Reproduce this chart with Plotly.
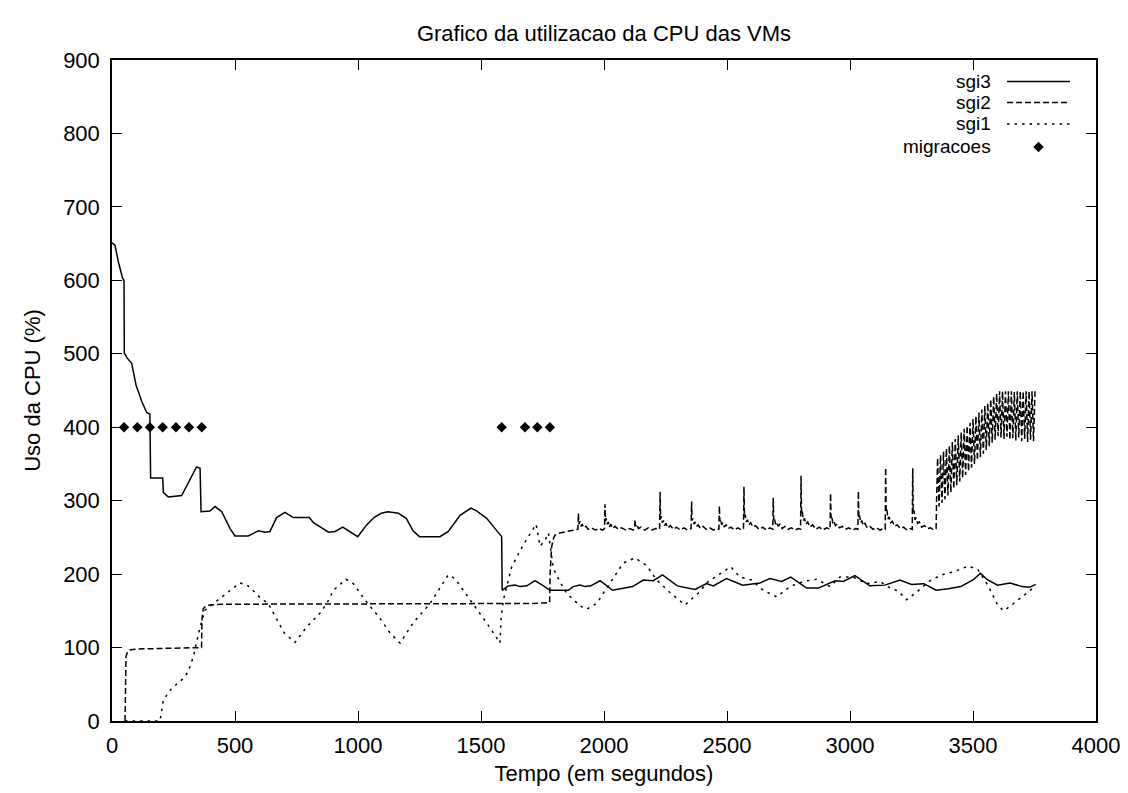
import plotly.graph_objects as go

# ---------------- data ----------------
sgi3_t = [0, 12, 26, 43, 49, 50, 62, 80, 98, 121, 141, 154, 157, 206, 209, 229, 283, 310, 344, 358,
          362, 398, 419, 446, 480, 500, 554, 595, 622, 642, 669, 703, 737, 802, 819, 880, 907, 938,
          967, 999, 1035, 1065, 1095, 1121, 1144, 1164, 1196, 1224, 1250, 1333, 1367, 1415, 1459,
          1482, 1523, 1584, 1586, 1611, 1638, 1659, 1686, 1720, 1754, 1780, 1855, 1875, 1902, 1923,
          1946, 1984, 2035, 2079, 2116, 2160, 2200, 2238, 2298, 2370, 2417, 2444, 2498, 2564, 2634,
          2675, 2722, 2759, 2824, 2871, 2939, 2973, 3020, 3081, 3142, 3203, 3250, 3300, 3350, 3400,
          3450, 3500, 3530, 3560, 3600, 3650, 3700, 3730, 3755]
sgi3_v = [651, 648, 625, 603, 600, 501, 494, 487, 457, 435, 420, 418, 331, 331, 311, 305, 307, 324, 346, 344,
          285, 286, 292, 285, 262, 252, 252, 259, 257, 258, 277, 284, 277, 277, 270, 257, 258, 264,
          258, 251, 267, 277, 283, 285, 284, 283, 276, 259, 251, 251, 258, 280, 290,
          286, 276, 251, 178, 184, 185, 183, 184, 191, 184, 178, 178, 183, 185, 183,
          184, 191, 178, 181, 183, 192, 191, 199, 184, 179, 187, 184, 194, 185, 188,
          194, 190, 196, 181, 181, 191, 190, 198, 184, 185, 192, 186, 187, 178, 180,
          183, 192, 201, 192, 185, 188, 183, 182, 186]

sgi2_t = [53, 54, 57, 62, 75, 100, 200, 300, 364, 366, 371, 380, 395, 450, 600, 1000, 1400, 1700, 1779,
          1781, 1787, 1795, 1801, 1820, 1848, 1875, 1894,
          1896, 1898, 1902, 1906, 1911, 1918, 1926, 1936, 1950, 1965, 1980, 1995, 2002,
          2004, 2006, 2009, 2013, 2017, 2022, 2028, 2035, 2045, 2058, 2072, 2088, 2104, 2118, 2124,
          2126, 2128, 2133, 2140, 2150, 2165, 2180, 2195, 2210, 2226,
          2228, 2230, 2233, 2237, 2241, 2246, 2252, 2260, 2270, 2282, 2295, 2310, 2325, 2340, 2354,
          2356, 2358, 2361, 2365, 2370, 2376, 2383, 2392, 2403, 2416, 2430, 2445, 2458, 2467,
          2469, 2471, 2474, 2478, 2483, 2489, 2496, 2505, 2516, 2530, 2545, 2558, 2567,
          2569, 2571, 2574, 2578, 2583, 2589, 2596, 2605, 2616, 2630, 2645, 2660, 2675, 2686,
          2688, 2690, 2693, 2697, 2702, 2708, 2715, 2724, 2735, 2748, 2762, 2776, 2790, 2799,
          2801, 2803, 2806, 2810, 2815, 2821, 2828, 2837, 2848, 2861, 2875, 2890, 2905, 2919,
          2921, 2923, 2926, 2930, 2935, 2941, 2948, 2957, 2968, 2981, 2995, 3010, 3024, 3032,
          3034, 3036, 3039, 3043, 3048, 3054, 3061, 3070, 3081, 3094, 3108, 3122, 3136, 3143,
          3145, 3147, 3150, 3154, 3159, 3165, 3172, 3181, 3192, 3205, 3218, 3232, 3245, 3253,
          3255, 3257, 3260, 3264, 3269, 3275, 3282, 3291, 3302, 3315, 3328, 3340, 3348, 3350, 3352,
          3356, 3362, 3368, 3374, 3380, 3386, 3392, 3398, 3404, 3410, 3416, 3422, 3428, 3434, 3440,
          3446, 3452, 3458, 3464, 3470, 3476, 3482, 3488, 3494, 3500, 3506, 3512, 3518, 3524, 3530,
          3536, 3542, 3548, 3554, 3560, 3566, 3572, 3578, 3584, 3590, 3596, 3602, 3608, 3614, 3620,
          3626, 3632, 3638, 3644, 3650, 3656, 3662, 3668, 3674, 3680, 3686, 3692, 3698, 3704, 3710,
          3716, 3722, 3728, 3734, 3740, 3746, 3752]
sgi2_v = [0, 60, 88, 93, 97, 98, 99, 99, 100, 140, 153, 156, 158, 159, 159, 159, 159, 160, 161,
          200, 237, 249, 253, 256, 258, 260, 261,
          283, 268, 272, 265, 268, 263, 265, 261, 263, 260, 262, 260, 262,
          295, 272, 276, 268, 271, 264, 268, 262, 265, 261, 263, 260, 262, 260, 262,
          274, 265, 268, 262, 264, 260, 263, 260, 262, 261,
          312, 275, 279, 270, 273, 266, 269, 263, 266, 261, 264, 260, 263, 260, 262,
          299, 273, 276, 268, 271, 265, 267, 262, 265, 261, 263, 260, 262, 261,
          293, 272, 275, 267, 270, 264, 267, 262, 264, 260, 263, 260, 262,
          319, 278, 281, 271, 274, 267, 270, 264, 266, 261, 264, 260, 263, 261,
          304, 274, 277, 268, 271, 265, 268, 262, 265, 261, 263, 260, 262, 261,
          334, 282, 285, 273, 276, 268, 271, 264, 267, 261, 264, 260, 263, 261,
          310, 276, 279, 269, 272, 266, 268, 263, 265, 261, 263, 260, 262, 261,
          313, 276, 280, 270, 273, 266, 269, 263, 265, 261, 263, 260, 262, 261,
          345, 285, 288, 275, 278, 270, 272, 265, 267, 262, 264, 260, 262, 261,
          344, 284, 287, 274, 277, 269, 271, 264, 266, 262, 263, 260, 261, 262, 300,
          358, 292, 362, 297, 367, 302, 371, 307, 375, 311, 380, 316, 384, 321, 389,
          326, 393, 331, 398, 335, 402, 340, 406, 345, 411, 350, 415, 355, 420, 359,
          424, 364, 429, 369, 433, 374, 438, 379, 442, 383, 446, 388, 449, 386, 449,
          384, 449, 387, 449, 383, 449, 385, 448, 382, 449, 386, 449, 381, 449, 384,
          449, 380, 449, 383, 449, 381, 449]

sgi1_t = [53, 100, 195, 209, 242, 290, 310, 331, 358, 378, 412, 466, 500, 520, 554, 602, 635, 669, 700,
          744, 791, 846, 873, 900, 951, 981, 1035, 1089, 1130, 1171, 1225, 1293, 1340, 1367, 1394,
          1435, 1476, 1543, 1577, 1582, 1591, 1625, 1672, 1724, 1740, 1760, 1774, 1794, 1820, 1848,
          1902, 1929, 1970, 2024, 2078, 2126, 2173, 2214, 2268, 2329, 2383, 2424, 2472, 2515, 2553,
          2600, 2647, 2702, 2756, 2810, 2864, 2919, 2959, 3013, 3068, 3122, 3163, 3196, 3230, 3270,
          3320, 3372, 3420, 3481, 3520, 3560, 3600, 3625, 3665, 3710, 3755]
sgi1_v = [0, 0, 0, 29, 44, 58, 67, 88, 128, 151, 160, 174, 183, 188, 184, 168, 160, 138, 120,
          107, 128, 147, 160, 178, 193, 187, 162, 140, 120, 106, 134, 160, 185, 199, 194,
          175, 156, 124, 106, 140, 165, 210, 240, 268, 238, 246, 256, 208, 190, 174,
          157, 152, 160, 188, 215, 222, 212, 192, 175, 158, 174, 190, 201, 210, 196,
          192, 178, 169, 183, 190, 193, 183, 196, 196, 187, 190, 181, 177, 165, 175,
          190, 199, 203, 211, 206, 185, 158, 150, 160, 172, 184]

migr_t = [49, 103, 154, 206, 260, 313, 365, 1584, 1679, 1729, 1780]
migr_v = [400, 400, 400, 400, 400, 400, 400, 400, 400, 400, 400]

x_ticks = [0, 500, 1000, 1500, 2000, 2500, 3000, 3500, 4000]
y_ticks = [0, 100, 200, 300, 400, 500, 600, 700, 800, 900]

series_names = ["sgi3", "sgi2", "sgi1", "migracoes"]

# ---------------- figure ----------------
FONT = "Liberation Sans, Arial, sans-serif"
FS = 22
LEG_FS = 19
LW = 1.5
DASH2 = "6px,3px"
DOT1 = "2.5px,5px"
MS = 8

fig = go.Figure()
fig.add_trace(go.Scatter(x=sgi3_t, y=sgi3_v, mode="lines", name="sgi3",
                         line=dict(color="black", width=LW), showlegend=False))
fig.add_trace(go.Scatter(x=sgi2_t, y=sgi2_v, mode="lines", name="sgi2",
                         line=dict(color="black", width=LW, dash=DASH2), showlegend=False))
fig.add_trace(go.Scatter(x=sgi1_t, y=sgi1_v, mode="lines", name="sgi1",
                         line=dict(color="black", width=LW, dash=DOT1), showlegend=False))
fig.add_trace(go.Scatter(x=migr_t, y=migr_v, mode="markers", name="migracoes",
                         marker=dict(symbol="diamond", size=MS, color="black"), showlegend=False))

# gnuplot-style legend (text right-aligned, sample on the right) on an overlay axis
leg_y = [0.9675, 0.9357, 0.9032, 0.8684]
styles = [dict(dash="solid"), dict(dash=DASH2), dict(dash=DOT1)]
for i in range(3):
    fig.add_trace(go.Scatter(x=[0.9096, 0.9736], y=[leg_y[i], leg_y[i]], mode="lines",
                             xaxis="x2", yaxis="y2", showlegend=False, hoverinfo="skip",
                             line=dict(color="black", width=LW, **styles[i])))
fig.add_trace(go.Scatter(x=[0.9416], y=[leg_y[3]], mode="markers", xaxis="x2", yaxis="y2",
                         showlegend=False, hoverinfo="skip",
                         marker=dict(symbol="diamond", size=MS, color="black")))
for i, nm in enumerate(series_names):
    fig.add_annotation(x=0.8953, y=leg_y[i], xref="paper", yref="paper", text=nm,
                       showarrow=False, xanchor="right", yanchor="middle",
                       font=dict(family=FONT, size=LEG_FS, color="black"))

axis_common = dict(showline=True, linecolor="black", linewidth=1.5, mirror="allticks",
                   ticks="inside", ticklen=10, tickwidth=1.2, tickcolor="black",
                   showgrid=False, zeroline=False,
                   tickfont=dict(family=FONT, size=FS, color="black"))

# the page body adds an 8px offset, so the margins are reduced by 8 on the left/top
fig.update_layout(
    width=1128, height=793,
    margin=dict(l=104, r=40, t=52, b=80, autoexpand=False),
    paper_bgcolor="white", plot_bgcolor="white",
    font=dict(family=FONT, size=FS, color="black"),
    title=dict(text="Grafico da utilizacao da CPU das VMs", x=0.5, xref="paper", xanchor="center",
               y=1 - 25 / 793, yanchor="middle", yref="container",
               font=dict(family=FONT, size=FS, color="black")),
    xaxis=dict(range=[0, 4000], tickvals=x_ticks, ticktext=[str(v) for v in x_ticks],
               ticklabelstandoff=4,
               title=dict(text="Tempo (em segundos)", standoff=8,
                          font=dict(family=FONT, size=FS, color="black")),
               automargin=False, **axis_common),
    yaxis=dict(range=[0, 900], tickvals=y_ticks, ticktext=[str(v) for v in y_ticks],
               ticklabelstandoff=6,
               title=dict(text="Uso da CPU (%)", standoff=16,
                          font=dict(family=FONT, size=FS, color="black")),
               automargin=False, **axis_common),
    xaxis2=dict(range=[0, 1], overlaying="x", visible=False, fixedrange=True),
    yaxis2=dict(range=[0, 1], overlaying="y", visible=False, fixedrange=True),
    showlegend=False,
)

fig.write_html("out.html")
